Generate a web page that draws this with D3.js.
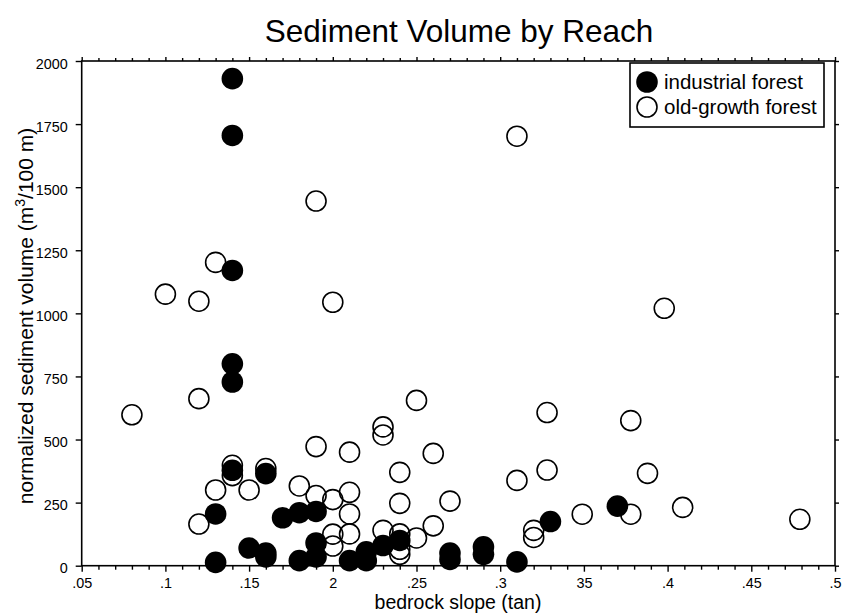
<!DOCTYPE html>
<html>
<head>
<meta charset="utf-8">
<script src="https://cdn.jsdelivr.net/npm/d3@7"></script>
<style>
  body { margin: 0; background: #fff; }
  svg { display: block; }
  text { font-family: "Liberation Sans", Arial, Helvetica, sans-serif; fill: #000; }
</style>
</head>
<body>
<svg id="chart" width="842" height="613"></svg>
<script>
// Industrial forest reaches: bedrock slope (tan) and normalized sediment volume (m3/100 m)
const industrialSlope  = [0.14, 0.14, 0.14, 0.14, 0.14, 0.14, 0.16, 0.13, 0.13, 0.15,
                          0.16, 0.16, 0.17, 0.18, 0.19, 0.18, 0.19, 0.19, 0.21, 0.22,
                          0.22, 0.23, 0.24, 0.27, 0.27, 0.29, 0.29, 0.31, 0.33, 0.37];
const industrialVolume = [1930, 1705, 1170, 800, 728, 378, 365, 205, 13, 70,
                          50, 35, 190, 210, 215, 20, 90, 35, 20, 20,
                          55, 80, 100, 50, 25, 75, 45, 15, 175, 236];

// Old-growth forest reaches
const oldGrowthSlope  = [0.08, 0.10, 0.12, 0.12, 0.12, 0.13, 0.13, 0.14, 0.14, 0.15,
                         0.16, 0.18, 0.19, 0.19, 0.19, 0.20, 0.20, 0.20, 0.20, 0.21,
                         0.21, 0.21, 0.21, 0.23, 0.23, 0.23, 0.24, 0.24, 0.24, 0.24,
                         0.24, 0.25, 0.25, 0.26, 0.26, 0.27, 0.31, 0.31, 0.32, 0.32,
                         0.328, 0.328, 0.349, 0.378, 0.378, 0.388, 0.398, 0.409, 0.479];
const oldGrowthVolume = [598, 1076, 1048, 662, 165, 1202, 300, 398, 357, 300,
                         385, 316, 1445, 472, 278, 1044, 262, 125, 78, 450,
                         291, 205, 126, 550, 518, 140, 370, 247, 126, 65,
                         45, 655, 110, 445, 158, 256, 1702, 338, 140, 112,
                         607, 379, 204, 575, 204, 366, 1020, 231, 184];

const seriesNames = ["industrial forest", "old-growth forest"];

const xMajorTicks = [0.05, 0.10, 0.15, 0.20, 0.25, 0.30, 0.35, 0.40, 0.45, 0.50];
const xTickLabels = [".05", ".1", ".15", "2", ".25", ".3", "35", ".4", ".45", ".5"];
const yMajorTicks = [0, 250, 500, 750, 1000, 1250, 1500, 1750, 2000];
const yTickLabels = ["0", "250", "500", "750", "1000", "1250", "1500", "1750", "2000"];

const titleText = "Sediment Volume by Reach";
const xAxisTitle = "bedrock slope (tan)";

const svg = d3.select("#chart");
const plot = { left: 81.7, right: 835, top: 61, bottom: 565.7 };

const x = d3.scaleLinear().domain([0.05, 0.5]).range([plot.left, plot.right]);
const y = d3.scaleLinear().domain([0, 2000]).range([plot.bottom, plot.top]);

const xMinorTicks = d3.range(5, 51).map(d => d / 100).filter(v => !xMajorTicks.some(m => Math.abs(m - v) < 1e-9));

// Frame
svg.append("rect")
  .attr("x", plot.left).attr("y", plot.top)
  .attr("width", plot.right - plot.left).attr("height", plot.bottom - plot.top)
  .attr("fill", "none").attr("stroke", "#000").attr("stroke-width", 1.6);

function styleAxis(g) {
  g.select(".domain").remove();
  g.selectAll(".tick line").attr("stroke", "#000").attr("stroke-width", 1.4);
}

// Bottom axis: labelled majors plus minor ticks every 0.01
svg.append("g")
  .attr("transform", `translate(0,${plot.bottom})`)
  .call(d3.axisBottom(x).tickValues(xMajorTicks).tickSize(6).tickPadding(6)
    .tickFormat((d, i) => xTickLabels[i]))
  .call(styleAxis)
  .call(g => g.selectAll("text").attr("font-size", 14.4).attr("fill", "#000")
    .attr("font-family", '"Liberation Sans", Arial, sans-serif'));
svg.append("g")
  .attr("transform", `translate(0,${plot.bottom})`)
  .call(d3.axisBottom(x).tickValues(xMinorTicks).tickSize(4).tickFormat(""))
  .call(styleAxis);

// Top axis ticks
svg.append("g")
  .attr("transform", `translate(0,${plot.top})`)
  .call(d3.axisTop(x).tickValues(xMajorTicks).tickSize(4).tickFormat(""))
  .call(styleAxis);
svg.append("g")
  .attr("transform", `translate(0,${plot.top})`)
  .call(d3.axisTop(x).tickValues(xMinorTicks).tickSize(3).tickFormat(""))
  .call(styleAxis);

// Left axis
svg.append("g")
  .attr("transform", `translate(${plot.left},0)`)
  .call(d3.axisLeft(y).tickValues(yMajorTicks).tickSize(6).tickPadding(8)
    .tickFormat((d, i) => yTickLabels[i]))
  .call(styleAxis)
  .call(g => g.selectAll("text").attr("font-size", 14.4).attr("fill", "#000")
    .attr("dy", "0.5em")
    .attr("font-family", '"Liberation Sans", Arial, sans-serif'));

// Right axis ticks
svg.append("g")
  .attr("transform", `translate(${plot.right},0)`)
  .call(d3.axisRight(y).tickValues(yMajorTicks).tickSize(4).tickFormat(""))
  .call(styleAxis);

// Points: old-growth as open circles, industrial as filled circles on top
const oldGrowth = oldGrowthSlope.map((s, i) => ({ s, v: oldGrowthVolume[i] }));
const industrial = industrialSlope.map((s, i) => ({ s, v: industrialVolume[i] }));

svg.append("g").selectAll("circle").data(oldGrowth).join("circle")
  .attr("cx", d => x(d.s)).attr("cy", d => y(d.v)).attr("r", 10)
  .attr("fill", "none").attr("stroke", "#000").attr("stroke-width", 1.6);

svg.append("g").selectAll("circle").data(industrial).join("circle")
  .attr("cx", d => x(d.s)).attr("cy", d => y(d.v)).attr("r", 10.8)
  .attr("fill", "#000");

// Title
svg.append("text")
  .attr("x", 459).attr("y", 42)
  .attr("text-anchor", "middle").attr("font-size", 31.5)
  .text(titleText);

// Axis titles
svg.append("text")
  .attr("x", 458).attr("y", 609)
  .attr("text-anchor", "middle").attr("font-size", 19.5)
  .text(xAxisTitle);

const yTitle = svg.append("text")
  .attr("transform", "translate(33,316) rotate(-90)")
  .attr("text-anchor", "middle").attr("font-size", 21);
yTitle.append("tspan").text("normalized sediment volume (m");
yTitle.append("tspan").attr("font-size", 14).attr("dy", -8).text("3");
yTitle.append("tspan").attr("dy", 8).text("/100 m)");

// Legend
const legend = svg.append("g");
legend.append("rect")
  .attr("x", 630).attr("y", 63).attr("width", 194).attr("height", 64)
  .attr("fill", "#fff").attr("stroke", "#000").attr("stroke-width", 1.6);
const legendRows = [
  { name: seriesNames[0], filled: true, cy: 82 },
  { name: seriesNames[1], filled: false, cy: 107 }
];
legendRows.forEach(r => {
  legend.append("circle")
    .attr("cx", 647).attr("cy", r.cy).attr("r", r.filled ? 10.8 : 10)
    .attr("fill", r.filled ? "#000" : "none")
    .attr("stroke", r.filled ? "none" : "#000").attr("stroke-width", 1.6);
  legend.append("text")
    .attr("x", 664).attr("y", r.cy + 7).attr("font-size", 20.5)
    .text(r.name);
});
</script>
</body>
</html>
